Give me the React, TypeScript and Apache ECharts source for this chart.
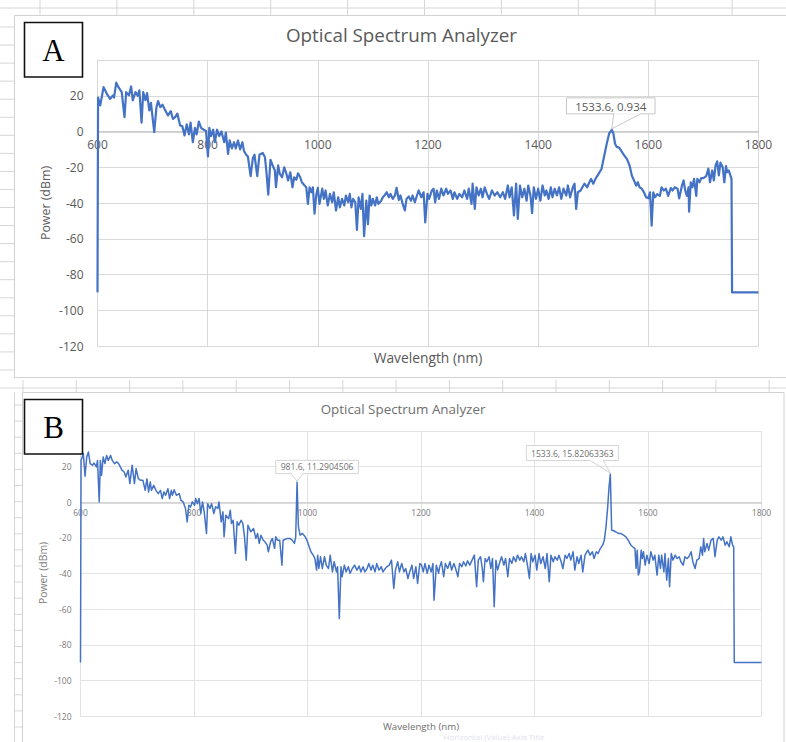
import { useEffect, useRef } from 'react';
import * as echarts from 'echarts';

// Measured spectra: [wavelength (nm), power (dBm)]
const spectrumA: [number, number][] = [
  [600, -90], [601, 19], [605, 14.6], [611, 24.8], [617, 21.1], [623, 18.3], [628, 20.2], [630, 19], [634, 27.3], [638, 24.8],
  [644, 22], [649, 8], [652, 22], [657, 20.2], [661, 25.2], [664, 17.4], [669, 22], [673, 20], [676, 23], [680, 4.9],
  [683, 22], [687, 17.5], [690, 21.5], [694, 11.8], [697, 16], [703, -0.4], [707, 13.6], [710, 17], [714, 13.6], [718, 15],
  [722, 12.5], [728, 9], [733, 11.4], [737, 7], [741, 8], [745, 10], [750, 3.4], [754, 3], [758, -2.2], [762, 4],
  [766, -1.6], [769, 5], [773, -6], [777, 2], [780, -1.6], [784, 5.6], [788, 2], [793, 1], [797, 0.3], [800.5, -14],
  [803, 2], [806, -2.6], [810, 1], [813, -6], [817, 1], [821, -2.6], [825, 0], [830, -6], [833, -0.6], [837, -12.5],
  [840, -5], [844, -9.5], [848, -6], [851, -9.5], [855, -5], [859, -10], [863, -6], [866, -11], [870, -13], [873, -14],
  [878, -25], [882, -15], [885, -13], [890, -25], [894, -13], [900, -12], [904, -14.4], [907, -23.7], [910, -35.3], [914, -15.8],
  [918, -19], [922, -21.8], [924, -31.2], [928, -19], [931, -23.7], [935, -25.6], [939, -20], [943, -23.7], [946, -27.4], [950, -22.8],
  [954, -31.2], [957, -25.6], [961, -27], [964, -23.4], [968, -25.6], [971, -28.4], [976, -30.2], [979, -31.2], [982, -40.5], [985, -31.2],
  [988, -34], [991, -31.2], [994, -46], [997, -35.8], [1000, -31.5], [1003, -40.5], [1008, -32], [1011, -37.7], [1014, -33], [1018, -41.4],
  [1022, -34.9], [1026, -39.6], [1029, -34], [1033, -44.2], [1037, -36.8], [1040, -42.4], [1044, -37.7], [1048, -41.4], [1051, -35.8], [1055, -39.6],
  [1058, -34.9], [1061, -42.4], [1064, -37.7], [1068, -39.6], [1071, -55.1], [1074, -36.8], [1078, -43.3], [1081, -34.9], [1084, -58.6], [1088, -38.7],
  [1091, -51.8], [1094, -35.8], [1097, -41.4], [1100, -37.7], [1104, -41.4], [1107, -36.8], [1110, -40.5], [1115, -38.7], [1118, -36.8], [1121, -35.8],
  [1125, -34], [1129, -36.8], [1132, -34.9], [1136, -37.7], [1140, -35.8], [1143, -31.5], [1147, -38.3], [1150, -35.8], [1154, -40.5], [1158, -44.2],
  [1161, -37.7], [1165, -36.3], [1169, -38.7], [1172, -35.8], [1176, -39.6], [1179, -36.8], [1183, -33], [1188, -36.8], [1192, -34], [1195, -50.9],
  [1199, -34.9], [1202, -37.7], [1207, -33], [1210, -32], [1213, -39.6], [1216, -33], [1220, -37.7], [1224, -32], [1228, -35.8], [1233, -32],
  [1236, -34.9], [1241, -33], [1245, -37.7], [1248, -34], [1253, -37.7], [1257, -34.9], [1262, -36.8], [1266, -33], [1271, -37.7], [1274, -32],
  [1279, -40.5], [1281, -29.2], [1285, -43.3], [1288, -31.2], [1292, -35.8], [1296, -32], [1299, -36.8], [1303, -31.2], [1307, -34.9], [1311, -37.7],
  [1316, -33], [1321, -35.8], [1326, -34], [1331, -36.8], [1336, -34], [1340, -37.7], [1345, -30.2], [1348, -36.8], [1352, -31.2], [1356, -47],
  [1360, -29.2], [1363, -48.9], [1367, -30.2], [1371, -36.8], [1375, -32], [1379, -38.7], [1382, -30.2], [1386, -35.8], [1389, -45.7], [1392, -31.2],
  [1396, -37.7], [1400, -32], [1404, -38.7], [1408, -30.2], [1412, -35.8], [1415, -33], [1419, -37.7], [1423, -31.2], [1426, -36.8], [1430, -32],
  [1434, -35.8], [1438, -31.2], [1442, -37.7], [1446, -32], [1451, -35.8], [1454, -30.2], [1458, -36.8], [1463, -31.2], [1466, -29.2], [1469, -43.3],
  [1472, -34], [1477, -33], [1481, -30.8], [1484, -29.2], [1489, -31.2], [1493, -28.4], [1496, -26.5], [1500, -29.2], [1504, -26.5], [1508, -24.6],
  [1511, -23], [1515, -21], [1519, -15], [1524, -7.5], [1529, -1], [1532, 0.2], [1533.6, 0.934], [1536.5, -1], [1539.5, -6.7], [1542.5, -8.6],
  [1547, -9], [1552, -11.4], [1556, -13.3], [1561, -15.3], [1566, -19], [1570, -24.6], [1574, -27.4], [1578, -30.3], [1581, -28.4], [1584, -31.2],
  [1588, -32], [1592, -34], [1596, -36.8], [1600, -37.4], [1603, -34], [1606, -52.7], [1609, -34], [1612, -36.8], [1616, -35], [1621, -36],
  [1624, -31.2], [1628, -33], [1632, -32], [1636, -36], [1641, -31.6], [1644, -33], [1648, -31.2], [1653, -32], [1656, -37.4], [1661, -30.3],
  [1664, -27.4], [1667, -33], [1670, -36], [1673, -31.2], [1674, -44.9], [1677, -28.4], [1680, -31.2], [1683, -26.5], [1687, -36], [1689, -26.5],
  [1693, -28.4], [1696, -26.1], [1700, -26.1], [1705, -25], [1709, -20.8], [1712, -28.4], [1716, -21.8], [1719, -27.4], [1722, -19], [1725, -16.7],
  [1728, -24.6], [1731, -17.4], [1735, -20], [1738, -28.4], [1741, -19.3], [1743, -22.8], [1746, -21.8], [1751, -26.5], [1752, -90], [1800, -90],
];

const spectrumB: [number, number][] = [
  [600, -90], [601, 23.5], [605, 27.3], [608, 14.6], [611, 25.4], [614, 28.2], [617, 21.7], [621, 20.8], [624, 22], [628, 19.8],
  [630, 23.5], [633, 0.2], [635, 23.5], [637, 15.1], [640, 25.4], [643, 21.7], [646, 26.3], [649, 23.5], [653, 26.3], [656, 23.5],
  [660, 21.7], [664, 22.7], [668, 21.3], [673, 18], [677, 17], [680, 14.2], [684, 18], [687, 10.5], [691, 20.8], [695, 10.5],
  [698, 18.9], [702, 13.2], [706, 12.3], [710, 12.3], [714, 6.7], [717, 13.2], [720, 5.8], [723, 11.4], [725, 6.7], [729, 9.5],
  [733, 6.7], [737, 4.8], [741, 6.7], [744, 2.1], [747, 5.8], [750, 3.9], [754, 7.6], [757, 2.1], [760, 6.7], [762, 3.9],
  [765, 7], [769, 3.9], [774, 4.8], [777, 1.1], [781, 0.2], [785, -3.5], [788, -11], [791, -1.7], [794, -2.6], [797, 0.2],
  [801, -1.7], [803, 2.1], [806, -0.8], [809, 2.1], [812, -6.3], [815, 0.2], [818, -5.4], [822, -17.5], [824, -0.8], [828, -3.5],
  [831, -0.8], [835, -6.3], [838, -2.6], [842, -3.5], [844, 0.2], [848, -11], [851, -5.4], [853, -19.4], [856, -7.3], [861, -9.2],
  [864, -4.5], [866, -11.9], [869, -10.1], [873, -28.7], [876, -11], [879, -12.9], [883, -10.1], [886, -11.9], [889, -19.4], [892, -32.5],
  [895, -12.9], [900, -16.6], [905, -14.8], [909, -20.3], [912, -17.5], [915, -23.1], [918, -18.5], [922, -21.3], [925, -22.2], [929, -24.1],
  [931, -27.8], [935, -22.2], [938, -20.3], [942, -25.9], [944, -19.4], [947, -21.3], [951, -21.3], [955, -35.3], [957, -21.3], [960, -20.9],
  [965, -20.3], [969, -20.3], [973, -21.3], [977, -23.1], [979.2, -19.4], [981.6, 11.2904506], [984, -13.8], [987, -18.5], [991, -17.5], [996, -19.4],
  [999, -21.3], [1003, -25], [1006, -27.8], [1010, -29.7], [1013, -31.6], [1016, -38.1], [1018, -29.7], [1020, -37.2], [1023, -30.6], [1026, -37.2],
  [1030, -30.6], [1033, -35.3], [1037, -37.2], [1040, -29.7], [1044, -39.1], [1047, -33.4], [1051, -39.1], [1053, -36.2], [1056, -65.2], [1059, -36.2],
  [1061, -41.8], [1065, -35.3], [1068, -39.1], [1072, -36.2], [1075, -39.9], [1079, -37.2], [1083, -35.3], [1087, -38.1], [1091, -35.8], [1094, -39.1],
  [1098, -36.2], [1101, -39.1], [1105, -37.2], [1108, -34.4], [1112, -38.1], [1115, -35.3], [1119, -39.1], [1122, -34.4], [1126, -38.1], [1130, -36.2],
  [1133, -39.1], [1137, -37.2], [1140, -36.2], [1144, -35.3], [1148, -32.5], [1152, -48.4], [1155, -38.1], [1159, -33.4], [1162, -39.1], [1166, -34.4],
  [1170, -39.1], [1173, -37.2], [1177, -42.8], [1180, -39.1], [1184, -35.3], [1187, -42.8], [1191, -36.2], [1194, -45.6], [1198, -34.4], [1201, -35.3],
  [1204, -39.1], [1207, -34.4], [1211, -39.9], [1214, -35.3], [1218, -39.1], [1221, -34.4], [1223, -55], [1227, -35.3], [1231, -39.9], [1233, -36.2],
  [1236, -33.4], [1240, -41.8], [1243, -34.4], [1247, -37.2], [1251, -33.4], [1254, -38.1], [1258, -34.4], [1261, -37.2], [1265, -41.8], [1268, -34.4],
  [1272, -36.2], [1275, -33.4], [1279, -35.8], [1282, -32.9], [1286, -35.3], [1290, -32.5], [1294, -29.7], [1298, -47.4], [1301, -32.5], [1305, -30.6],
  [1308, -37.2], [1310, -44.6], [1313, -31.6], [1316, -33.4], [1320, -30.6], [1323, -37.2], [1326, -31.6], [1329, -58.6], [1332, -32.5], [1335, -38.1],
  [1339, -33.4], [1342, -30.6], [1346, -35.3], [1349, -31.6], [1353, -41.8], [1356, -31.6], [1360, -34.4], [1363, -30.6], [1367, -33.4], [1370, -29.7],
  [1374, -32.5], [1377, -30.6], [1381, -33.4], [1384, -28.8], [1388, -36.2], [1391, -42.8], [1394, -28.8], [1397, -33.4], [1401, -29.7], [1404, -38.1],
  [1408, -28.8], [1411, -34.4], [1415, -30.6], [1419, -37.2], [1422, -28.8], [1426, -44.6], [1429, -29.7], [1433, -33.4], [1436, -30.6], [1440, -32.5],
  [1443, -29.7], [1447, -33.4], [1450, -37.2], [1454, -29.7], [1457, -31.6], [1461, -28.8], [1464, -32.5], [1468, -27.8], [1471, -38.1], [1475, -30.6],
  [1478, -34.4], [1482, -29.7], [1485, -39.1], [1489, -29.7], [1494, -26.9], [1498, -29.7], [1502, -27.8], [1505, -31.6], [1509, -27.8], [1512, -28.8],
  [1516, -26], [1520, -24.1], [1523, -21.3], [1526, -13.8], [1529, -2.6], [1531.2, 8], [1533.6, 15.82063363], [1536, -15.7], [1540, -16], [1543, -16.6],
  [1548, -17.5], [1552, -17.5], [1557, -18.5], [1561, -19.4], [1565, -21.3], [1570, -24.1], [1574, -25.3], [1577, -25.9], [1579, -37.2], [1581, -26.9],
  [1583, -40.9], [1585, -39.1], [1588, -26.9], [1590, -31.6], [1592, -27.8], [1595, -35.3], [1598, -29.7], [1602, -34.4], [1605, -27.8], [1609, -32.5],
  [1612, -29.7], [1616, -40.9], [1619, -29.7], [1622, -37.2], [1624, -29.7], [1628, -39.1], [1630, -28.8], [1633, -43.7], [1636, -31.6], [1638, -47.4],
  [1641, -28.8], [1644, -32.5], [1648, -29.7], [1651, -31.6], [1655, -30.6], [1658, -33.4], [1662, -35.3], [1665, -30.6], [1669, -31.6], [1672, -30.6],
  [1676, -27.8], [1679, -33.4], [1683, -37.2], [1686, -32.5], [1690, -31.6], [1693, -25], [1696, -29.7], [1698, -20.3], [1700, -27.8], [1704, -23.1],
  [1707, -26.9], [1711, -21.3], [1715, -20.3], [1718, -30.6], [1722, -21.3], [1725, -19.4], [1729, -21.3], [1732, -19.4], [1736, -24.1], [1739, -22.2],
  [1743, -25], [1746, -19.4], [1749, -24.1], [1751, -25], [1752, -90], [1800, -90],
];

// Annotated peaks
const peaksA: [number, number][] = [[1533.6, 0.934]];
const peaksB: [number, number][] = [[981.6, 11.2904506], [1533.6, 15.82063363]];

// Axis ticks
const xTicks = [600, 800, 1000, 1200, 1400, 1600, 1800];
const yTicksShown = [20, 0, -20, -40, -60, -80, -100, -120];
const yMin = -120;
const yMax = 40;

const FONT = "'Open Sans', 'Noto Sans', sans-serif";
const LINE = '#4472C4';

type Panel = {
  grid: { left: number; top: number; width: number; height: number };
  tickFont: number;
  tickColor: string;
  yMargin: number;
  xMargin: number;
  gridColor: string;
  zeroColor: string;
  lineWidth: number;
};

const panelA: Panel = {
  grid: { left: 97.5, top: 60, width: 661, height: 286 },
  tickFont: 12,
  tickColor: '#595959',
  yMargin: 14,
  xMargin: 7,
  gridColor: '#d9d9d9',
  zeroColor: '#c8c8c8',
  lineWidth: 2.2,
};

const panelB: Panel = {
  grid: { left: 80.5, top: 431, width: 681, height: 285 },
  tickFont: 8.5,
  tickColor: '#7a7a7a',
  yMargin: 9,
  xMargin: 6,
  gridColor: '#e3e3e3',
  zeroColor: '#d0d0d0',
  lineWidth: 1.5,
};

function axesFor(p: Panel, gridIndex: number) {
  // the wavelength axis crosses the power axis at 0 dBm, labels included
  const zeroOffset = -((0 - yMin) / (yMax - yMin)) * p.grid.height;
  const xAxis = {
    type: 'value',
    gridIndex,
    position: 'bottom',
    offset: zeroOffset,
    min: xTicks[0],
    max: xTicks[xTicks.length - 1],
    interval: 200,
    axisLine: { show: true, onZero: false, lineStyle: { color: p.zeroColor, width: 1.5 } },
    axisTick: { show: false },
    axisLabel: {
      fontFamily: FONT,
      fontSize: p.tickFont,
      color: p.tickColor,
      margin: p.xMargin,
      showMinLabel: true,
      showMaxLabel: true,
      formatter: (v: number) => (xTicks.includes(v) ? String(v) : ''),
    },
    splitLine: { show: true, lineStyle: { color: p.gridColor, width: 1 } },
  };
  const yAxis = {
    type: 'value',
    gridIndex,
    min: yMin,
    max: yMax,
    interval: 20,
    axisLine: { show: true, onZero: false, lineStyle: { color: p.gridColor, width: 1 } },
    axisTick: { show: false },
    axisLabel: {
      fontFamily: FONT,
      fontSize: p.tickFont,
      color: p.tickColor,
      margin: p.yMargin,
      formatter: (v: number) => (yTicksShown.includes(v) ? String(v) : ''),
    },
    splitLine: { show: true, lineStyle: { color: p.gridColor, width: 1 } },
  };
  return { xAxis, yAxis };
}

type CalloutStyle = {
  w: number; h: number; dx: number; gap: number; b0: number; b1: number;
  fontSize: number; color: string; border: string;
};

function callout(chart: echarts.ECharts, gridIndex: number, pt: [number, number], s: CalloutStyle) {
  const pix = chart.convertToPixel({ gridIndex }, pt) as number[];
  const px = pix[0];
  const py = pix[1];
  const bx = px + s.dx - s.w / 2;
  const by = py - s.gap - s.h;
  return [
    {
      type: 'rect', z: 20,
      shape: { x: bx, y: by, width: s.w, height: s.h },
      style: { fill: '#ffffff', stroke: s.border, lineWidth: 1 },
    },
    {
      type: 'polyline', z: 21,
      shape: { points: [[px + s.b0, by + s.h], [px, py - 1], [px + s.b1, by + s.h]] },
      style: { fill: 'none', stroke: s.border, lineWidth: 1 },
    },
    {
      type: 'line', z: 21,
      shape: { x1: px + s.b0 + 0.5, y1: by + s.h, x2: px + s.b1 - 0.5, y2: by + s.h },
      style: { stroke: '#ffffff', lineWidth: 1.2 },
    },
    {
      type: 'text', z: 22,
      x: bx + s.w / 2, y: by + s.h / 2 + 0.5,
      style: {
        text: `${pt[0]}, ${pt[1]}`,
        align: 'center', verticalAlign: 'middle',
        fontFamily: FONT, fontSize: s.fontSize, fill: s.color,
      },
    },
  ];
}

function sheetDecor() {
  const els: any[] = [];
  const sheet = '#d6d6d6';
  // upper sheet: header line, column ticks, row ticks, chart frame
  els.push({ type: 'line', shape: { x1: 0, y1: 8, x2: 786, y2: 8 }, style: { stroke: sheet, lineWidth: 1 } });
  for (let x = 40; x < 786; x += 76.9) {
    els.push({ type: 'line', shape: { x1: x, y1: 0, x2: x, y2: 15 }, style: { stroke: sheet, lineWidth: 1 } });
  }
  for (let y = 27; y < 378; y += 18.05) {
    els.push({ type: 'line', shape: { x1: 0, y1: y, x2: 14, y2: y }, style: { stroke: sheet, lineWidth: 1 } });
  }
  els.push({ type: 'rect', shape: { x: 14.5, y: 15.5, width: 800, height: 362 }, style: { fill: 'none', stroke: '#d2d2d2', lineWidth: 1 } });
  // lower sheet
  els.push({ type: 'line', shape: { x1: 0, y1: 388, x2: 786, y2: 388 }, style: { stroke: sheet, lineWidth: 1 } });
  for (let x = 23; x < 786; x += 53.3) {
    els.push({ type: 'line', shape: { x1: x, y1: 380, x2: x, y2: 392 }, style: { stroke: sheet, lineWidth: 1 } });
  }
  for (let y = 405; y < 742; y += 16.1) {
    els.push({ type: 'line', shape: { x1: 14, y1: y, x2: 23, y2: y }, style: { stroke: sheet, lineWidth: 1 } });
  }
  els.push({ type: 'line', shape: { x1: 14.5, y1: 392, x2: 14.5, y2: 742 }, style: { stroke: sheet, lineWidth: 1 } });
  els.push({ type: 'rect', shape: { x: 22.5, y: 392.5, width: 761.5, height: 400 }, style: { fill: 'none', stroke: '#d2d2d2', lineWidth: 1 } });
  return els;
}

function panelLabel(letter: string, x: number, y: number, w: number, h: number) {
  return [
    { type: 'rect', z: 30, shape: { x, y, width: w, height: h }, style: { fill: '#ffffff', stroke: '#111111', lineWidth: 1.6 } },
    {
      type: 'text', z: 31, x: x + w / 2, y: y + h / 2 + 1,
      style: { text: letter, align: 'center', verticalAlign: 'middle', fontFamily: "'Liberation Serif', 'DejaVu Serif', serif", fontSize: 31, fill: '#000000' },
    },
  ];
}

function textEl(text: string, x: number, y: number, size: number, color: string, rotation = 0) {
  return {
    type: 'text', z: 10, x, y, rotation,
    style: { text, align: 'center', verticalAlign: 'middle', fontFamily: FONT, fontSize: size, fill: color },
  };
}

export default function App() {
  const ref = useRef<HTMLDivElement>(null);

  useEffect(() => {
    if (!ref.current) return;
    const chart = echarts.init(ref.current, undefined, { renderer: 'svg' });
    const a = axesFor(panelA, 0);
    const b = axesFor(panelB, 1);

    chart.setOption({
      animation: false,
      backgroundColor: '#ffffff',
      grid: [
        { ...panelA.grid, containLabel: false, outerBoundsMode: 'none' },
        { ...panelB.grid, containLabel: false, outerBoundsMode: 'none' },
      ],
      xAxis: [a.xAxis, b.xAxis],
      yAxis: [a.yAxis, b.yAxis],
      series: [
        {
          type: 'line', xAxisIndex: 0, yAxisIndex: 0, data: spectrumA,
          showSymbol: false, symbol: 'none', z: 5,
          lineStyle: { color: LINE, width: panelA.lineWidth, join: 'round' },
        },
        {
          type: 'line', xAxisIndex: 1, yAxisIndex: 1, data: spectrumB,
          showSymbol: false, symbol: 'none', z: 5,
          lineStyle: { color: LINE, width: panelB.lineWidth, join: 'round' },
        },
      ],
    } as any);

    const styleA: CalloutStyle = { w: 88.6, h: 16, dx: -1, gap: 16, b0: 2, b1: 29, fontSize: 11.5, color: '#595959', border: '#c8c8c8' };
    const styleB1: CalloutStyle = { w: 82.6, h: 13.3, dx: 20, gap: 8.5, b0: -6, b1: 6, fontSize: 8.6, color: '#707070', border: '#d4d4d4' };
    const styleB2: CalloutStyle = { w: 92, h: 15, dx: -38, gap: 13.5, b0: -20, b1: -7, fontSize: 8.6, color: '#707070', border: '#d4d4d4' };

    const graphics: any[] = [
      ...sheetDecor(),
      textEl('Optical Spectrum Analyzer', 401.5, 35, 18.8, '#595959'),
      textEl('Wavelength (nm)', 428, 357, 13.8, '#595959'),
      textEl('Power (dBm)', 45, 203, 12.4, '#595959', Math.PI / 2),
      textEl('Optical Spectrum Analyzer', 403, 409, 13.4, '#6e6e6e'),
      textEl('Wavelength (nm)', 421, 726, 9.7, '#6e6e6e'),
      textEl('Power (dBm)', 43, 573, 10.4, '#808080', Math.PI / 2),
      textEl('Horizontal (Value) Axis Title', 494, 736.5, 8, '#dfe3ea'),
      ...panelLabel('A', 24.5, 22.5, 58, 54.5),
      ...panelLabel('B', 24.5, 399.5, 58, 54.5),
      ...peaksA.flatMap((p) => callout(chart, 0, p, styleA)),
      ...callout(chart, 1, peaksB[0], styleB1),
      ...callout(chart, 1, peaksB[1], styleB2),
    ];
    chart.setOption({ graphic: graphics } as any);

    return () => chart.dispose();
  }, []);

  return (
    <div
      ref={ref}
      style={{ position: 'absolute', left: 0, top: 0, width: 786, height: 742, background: '#ffffff' }}
    />
  );
}
